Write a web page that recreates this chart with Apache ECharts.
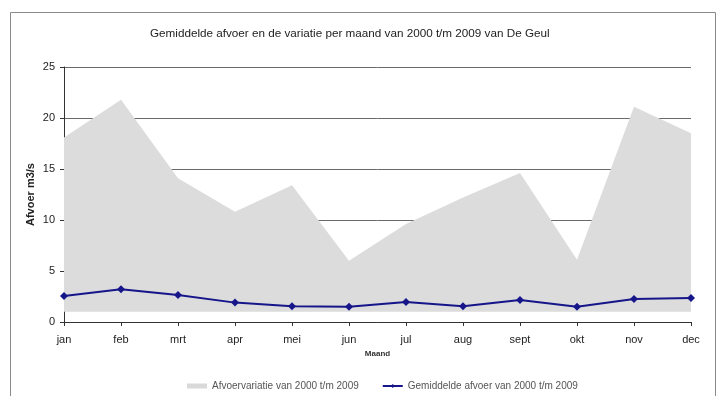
<!DOCTYPE html>
<html>
<head>
<meta charset="utf-8">
<script src="https://cdn.jsdelivr.net/npm/echarts@6/dist/echarts.min.js"></script>
<style>
  html, body { margin: 0; padding: 0; background: #fff; }
  #chart { width: 726px; height: 396px; }
</style>
</head>
<body>
<div id="chart"></div>
<script>
// Monthly discharge of De Geul, 2000 t/m 2009 (m3/s)
const maanden = ['jan', 'feb', 'mrt', 'apr', 'mei', 'jun', 'jul', 'aug', 'sept', 'okt', 'nov', 'dec'];
const afvoerMin = [1.0, 1.0, 1.0, 1.0, 1.0, 1.0, 1.0, 1.0, 1.0, 1.0, 1.0, 1.0];
const afvoerMax = [18.1, 21.8, 14.1, 10.8, 13.4, 6.0, 9.6, 12.2, 14.6, 6.1, 21.1, 18.5];
const afvoerGem = [2.55, 3.2, 2.65, 1.9, 1.55, 1.5, 1.95, 1.55, 2.15, 1.5, 2.25, 2.35];

// the grey band is stacked on an invisible lower bound
const bandDiff = afvoerMax.map((v, i) => +(v - afvoerMin[i]).toFixed(2));

const chart = echarts.init(document.getElementById('chart'));
chart.setOption({
  animation: false,
  backgroundColor: '#ffffff',
  textStyle: { fontFamily: 'Liberation Sans, Arial, sans-serif' },
  title: {
    text: 'Gemiddelde afvoer en de variatie per maand van 2000 t/m 2009 van De Geul',
    left: 145,
    top: 23,
    textStyle: { fontSize: 11.7, fontWeight: 'normal', color: '#222' }
  },
  graphic: [{
    type: 'rect',
    shape: { x: 10.5, y: 12.5, width: 705, height: 390 },
    style: { fill: 'none', stroke: '#8a8a8a', lineWidth: 1 },
    silent: true
  }],
  legend: {
    top: 376,
    left: 182,
    itemGap: 23,
    itemWidth: 20,
    itemHeight: 5,
    textStyle: { fontSize: 10, color: '#555' },
    data: [
      { name: 'Afvoervariatie van 2000 t/m 2009', icon: 'rect' },
      { name: 'Gemiddelde afvoer van 2000 t/m 2009' }
    ]
  },
  grid: { left: 64, right: 35, top: 67, bottom: 74 },
  xAxis: {
    type: 'category',
    data: maanden,
    boundaryGap: false,
    name: 'Maand',
    nameLocation: 'middle',
    nameGap: 28,
    nameTextStyle: { fontSize: 8, fontWeight: 'bold', color: '#333' },
    axisLine: { lineStyle: { color: '#333', width: 1 } },
    axisTick: { show: true, length: 4, lineStyle: { color: '#333' } },
    axisLabel: { fontSize: 11, color: '#222', margin: 12 },
    splitLine: { show: false }
  },
  yAxis: {
    type: 'value',
    min: 0,
    max: 25,
    interval: 5,
    name: 'Afvoer m3/s',
    nameLocation: 'middle',
    nameGap: 28,
    nameMoveOverlap: false,
    nameTextStyle: { fontSize: 11, fontWeight: 'bold', color: '#222' },
    axisLine: { show: true, lineStyle: { color: '#333', width: 1 } },
    axisTick: { show: true, length: 4, lineStyle: { color: '#333' } },
    axisLabel: { fontSize: 11, color: '#222', margin: 9 },
    splitLine: { show: true, lineStyle: { color: '#6a6a6a', width: 1 } }
  },
  series: [
    {
      name: 'ondergrens',
      type: 'line',
      stack: 'band',
      data: afvoerMin,
      symbol: 'none',
      lineStyle: { opacity: 0 },
      areaStyle: { opacity: 0 },
      silent: true
    },
    {
      name: 'Afvoervariatie van 2000 t/m 2009',
      type: 'line',
      stack: 'band',
      data: bandDiff,
      symbol: 'none',
      itemStyle: { color: '#d9d9d9' },
      lineStyle: { width: 0, color: '#d9d9d9' },
      areaStyle: { color: '#dcdcdc', opacity: 1 }
    },
    {
      name: 'Gemiddelde afvoer van 2000 t/m 2009',
      type: 'line',
      data: afvoerGem,
      symbol: 'diamond',
      symbolSize: 8,
      z: 5,
      itemStyle: { color: '#16168a' },
      lineStyle: { color: '#16168a', width: 2 }
    }
  ]
});
</script>
</body>
</html>
